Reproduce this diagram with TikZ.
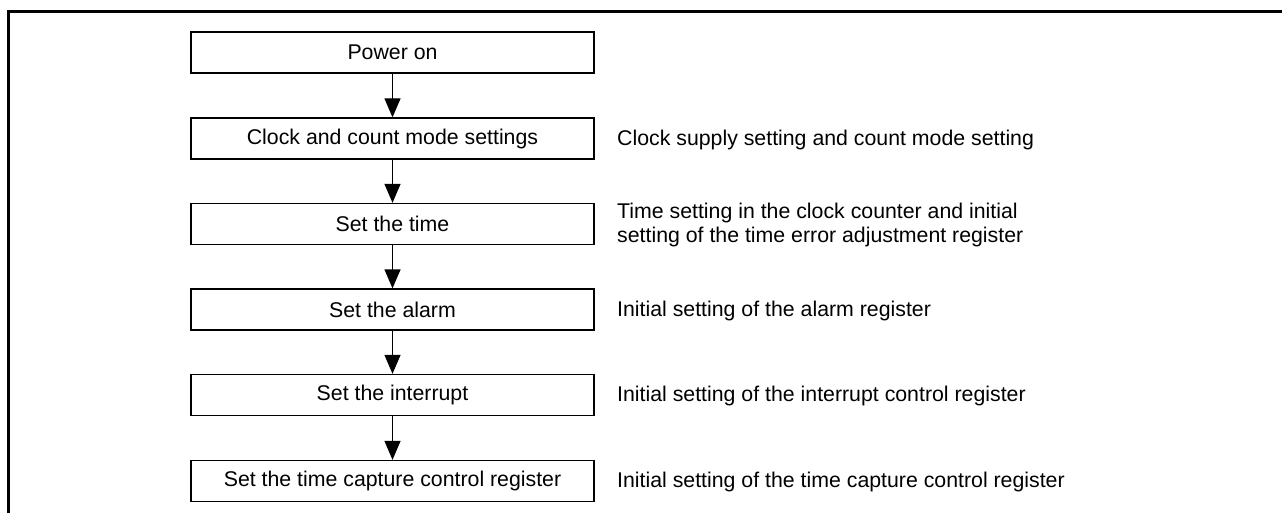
\documentclass[tikz,border=0pt]{standalone}
\usepackage{fontspec}
\setmainfont{Liberation Sans}
\usetikzlibrary{arrows.meta}
\begin{document}
\begin{tikzpicture}[x=1pt,y=-1pt,
  stepbox/.style={draw=black,line width=1.3pt,minimum width=403pt,minimum height=41pt,inner sep=0pt,font=\fontsize{21.3}{24}\selectfont},
  note/.style={anchor=west,inner sep=0pt,align=left,font=\fontsize{21.3}{24.5}\selectfont},
  flow/.style={line width=1.3pt,-{Triangle[length=19pt,width=16pt]}}]
\useasboundingbox (0,0) rectangle (1282,513);
\draw[line width=3pt] (8.7,513) -- (8.7,11.5) -- (1282,11.5);
\node[stepbox] (n1) at (392.5,52.5) {Power on};
\node[stepbox] (n2) at (392.5,138.5) {Clock and count mode settings};
\node[stepbox] (n3) at (392.5,224) {Set the time};
\node[stepbox] (n4) at (392.5,309.5) {Set the alarm};
\node[stepbox] (n5) at (392.5,395) {Set the interrupt};
\node[stepbox] (n6) at (392.5,481) {Set the time capture control register};
\draw[flow] (n1) -- (n2);
\draw[flow] (n2) -- (n3);
\draw[flow] (n3) -- (n4);
\draw[flow] (n4) -- (n5);
\draw[flow] (n5) -- (n6);
\node[note] (t2) at (617,139.5) {Clock supply setting and count mode setting};
\node[note] (t3) at (617,225) {Time setting in the clock counter and initial\\setting of the time error adjustment register};
\node[note] (t4) at (617,310.5) {Initial setting of the alarm register};
\node[note] (t5) at (617,396) {Initial setting of the interrupt control register};
\node[note] (t6) at (617,482) {Initial setting of the time capture control register};
\end{tikzpicture}
\end{document}
